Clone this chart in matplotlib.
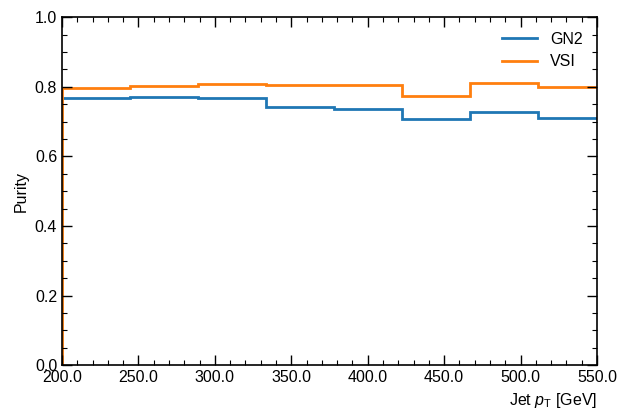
import numpy as np
import matplotlib
matplotlib.use("Agg")
import matplotlib.pyplot as plt
from matplotlib.ticker import MultipleLocator, FormatStrFormatter

plt.rcParams['font.family'] = ['Liberation Sans', 'DejaVu Sans']
plt.rcParams['mathtext.fontset'] = 'custom'
plt.rcParams['mathtext.it'] = 'Liberation Sans:italic'
plt.rcParams['mathtext.rm'] = 'Liberation Sans'

# pT bin edges [GeV]
bin_edges = np.linspace(200, 600, 10)[:9]
# purity per bin
gn2_purity = [0.767, 0.771, 0.768, 0.743, 0.737, 0.708, 0.727, 0.710]
vsi_purity = [0.797, 0.801, 0.809, 0.804, 0.804, 0.772, 0.812, 0.799]
series_labels = ["GN2", "VSI"]
colors = ["#1f77b4", "#ff7f0e"]

fig = plt.figure(figsize=(6.2, 4.08), dpi=100)
ax = fig.add_axes([0.1, 0.105, 0.863, 0.853])

for vals, lab, c in zip([gn2_purity, vsi_purity], series_labels, colors):
    ax.stairs(vals, bin_edges, color=c, linewidth=2, label=lab)

ax.set_xlim(200, 550)
ax.set_ylim(0, 1.0)
ax.xaxis.set_major_locator(MultipleLocator(50))
ax.xaxis.set_minor_locator(MultipleLocator(10))
ax.yaxis.set_major_locator(MultipleLocator(0.2))
ax.yaxis.set_minor_locator(MultipleLocator(0.05))
ax.xaxis.set_major_formatter(FormatStrFormatter('%.1f'))
ax.yaxis.set_major_formatter(FormatStrFormatter('%.1f'))
ax.tick_params(which='both', direction='in', top=True, right=True, labelsize=11.5)
ax.tick_params(which='major', length=7, width=1)
ax.tick_params(which='minor', length=3.5, width=0.8)
for s in ax.spines.values():
    s.set_linewidth(1.2)

ax.set_xlabel(r"Jet $p_{\mathrm{T}}$ [GeV]", fontsize=11.5, loc='right')
ax.set_ylabel("Purity", fontsize=11.5, loc='center')
ax.legend(loc='upper right', frameon=False, fontsize=11.5, handlelength=2.2)

fig.savefig("out.png", dpi=100)
